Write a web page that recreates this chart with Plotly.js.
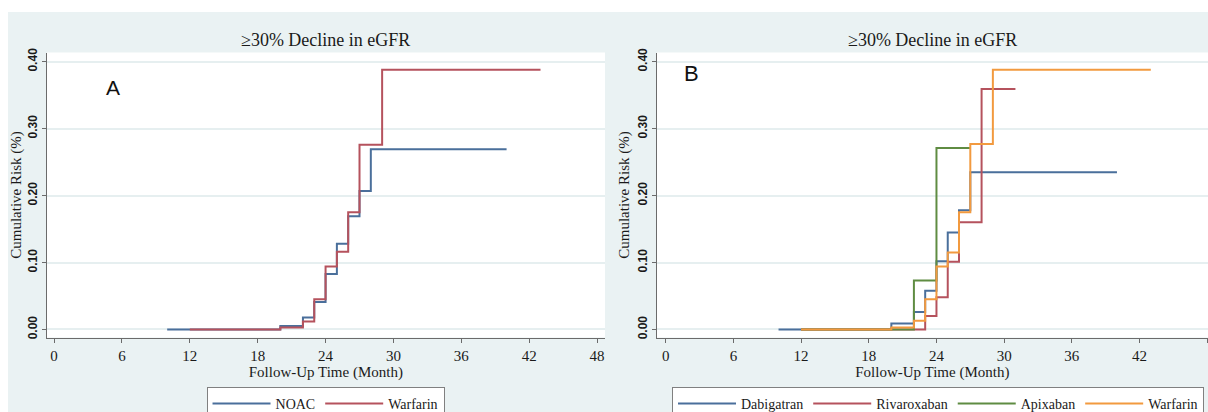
<!DOCTYPE html>
<html>
<head>
<meta charset="utf-8">
<script src="https://cdn.plot.ly/plotly-3.0.1.min.js"></script>
<style>
  html, body { margin: 0; padding: 0; background: #ffffff; overflow: hidden; }
  #chart { position: absolute; left: 8px; top: 12px; width: 1200px; height: 420px; }
</style>
</head>
<body>
<div id="chart"></div>
<script>
// ---- Data ----
const panelTitle = "≥30% Decline in eGFR";
const xTitle = "Follow-Up Time (Month)";
const yTitle = "Cumulative Risk (%)";
const xTicks = [0, 6, 12, 18, 24, 30, 36, 42, 48];
const yTicks = [0, 0.1, 0.2, 0.3, 0.4];

// Panel A
const noacTime = [10, 20, 22, 23, 24, 25, 26, 27, 28, 40];
const noacRisk = [0, 0.005, 0.018, 0.041, 0.083, 0.128, 0.169, 0.207, 0.269, 0.269];
const warfarinATime = [12, 20, 22, 23, 24, 25, 26, 27, 29, 43];
const warfarinARisk = [0, 0.003, 0.012, 0.045, 0.094, 0.116, 0.175, 0.276, 0.388, 0.388];

// Panel B
const dabigatranTime = [10, 20, 22, 23, 24, 25, 26, 27, 40];
const dabigatranRisk = [0, 0.009, 0.026, 0.058, 0.102, 0.145, 0.178, 0.235, 0.235];
const rivaroxabanTime = [12, 23, 24, 25, 26, 28, 31];
const rivaroxabanRisk = [0, 0.020, 0.048, 0.101, 0.160, 0.359, 0.359];
const apixabanTime = [12, 22, 24, 27];
const apixabanRisk = [0, 0.073, 0.271, 0.271];
const warfarinBTime = [12, 20, 22, 23, 24, 25, 26, 27, 29, 43];
const warfarinBRisk = [0, 0.003, 0.013, 0.045, 0.094, 0.115, 0.175, 0.277, 0.388, 0.388];

// ---- Styles ----
const BLUE = '#4a6f9b', RED = '#b5525d', GREEN = '#5f8c42', ORANGE = '#f29a3f';
const BG = '#eaf2f3';
const AXIS = '#6b6b6b';
const SERIF = 'Liberation Serif, Times New Roman, serif';
const SANS = 'Liberation Sans, Arial, sans-serif';

function stepTrace(name, x, y, color, xa, ya, legend) {
  return { type: 'scatter', mode: 'lines', name: name, x: x, y: y,
    line: { shape: 'hv', color: color, width: 2 },
    xaxis: xa, yaxis: ya, legend: legend, hoverinfo: 'x+y+name' };
}

const data = [
  stepTrace('NOAC', noacTime, noacRisk, BLUE, 'x', 'y', 'legend'),
  stepTrace('Warfarin', warfarinATime, warfarinARisk, RED, 'x', 'y', 'legend'),
  stepTrace('Dabigatran', dabigatranTime, dabigatranRisk, BLUE, 'x2', 'y2', 'legend2'),
  stepTrace('Rivaroxaban', rivaroxabanTime, rivaroxabanRisk, RED, 'x2', 'y2', 'legend2'),
  stepTrace('Apixaban', apixabanTime, apixabanRisk, GREEN, 'x2', 'y2', 'legend2'),
  stepTrace('Warfarin', warfarinBTime, warfarinBRisk, ORANGE, 'x2', 'y2', 'legend2')
];

function xAxis(domain, range, anchor) {
  return { domain: domain, range: range, anchor: anchor,
    tickmode: 'array', tickvals: xTicks, ticktext: xTicks.map(String),
    showline: true, linecolor: AXIS, linewidth: 1,
    ticks: 'outside', ticklen: 4, tickcolor: AXIS,
    showgrid: false, zeroline: false,
    tickfont: { family: SERIF, size: 15, color: '#1a1a1a' },
    title: { text: xTitle, font: { family: SERIF, size: 15, color: '#1a1a1a' }, standoff: 3 } };
}
function yAxis(domain, anchor) {
  return { domain: domain, range: [-0.012, 0.4137], anchor: anchor,
    tickmode: 'array', tickvals: yTicks, ticktext: yTicks.map(v => v.toFixed(2)),
    tickangle: -90,
    showline: true, linecolor: AXIS, linewidth: 1,
    ticks: 'outside', ticklen: 4, tickcolor: AXIS,
    showgrid: true, gridcolor: '#e6eff0', gridwidth: 1.5, zeroline: false,
    tickfont: { family: SANS, size: 12, color: '#1a1a1a', weight: 'bold' },
    title: { text: yTitle, font: { family: SERIF, size: 15, color: '#1a1a1a' }, standoff: 2 } };
}

const yDom = [0.225, 0.90357];
const legendCommon = { orientation: 'h', xref: 'container', yref: 'container',
  y: 0.10714, yanchor: 'top', xanchor: 'center',
  bgcolor: '#ffffff', bordercolor: '#808080', borderwidth: 1,
  font: { family: SERIF, size: 14, color: '#1a1a1a' },
  itemwidth: 58, itemclick: false, itemdoubleclick: false, traceorder: 'normal' };

const layout = {
  width: 1200, height: 420, autosize: false,
  margin: { l: 0, r: 0, t: 0, b: 0, pad: 0, autoexpand: false },
  paper_bgcolor: BG, plot_bgcolor: '#ffffff',
  showlegend: true,
  xaxis: xAxis([0.03225, 0.4975], [-0.65, 48.7], 'y'),
  yaxis: yAxis(yDom, 'x'),
  xaxis2: xAxis([0.54058, 1.0], [-0.8, 48.07], 'y2'),
  yaxis2: yAxis(yDom, 'x2'),
  legend: Object.assign({}, legendCommon, { x: 0.2646 }),
  legend2: Object.assign({}, legendCommon, { x: 0.775 }),
  annotations: [
    { text: panelTitle, xref: 'x domain', yref: 'paper', x: 0.5, y: 0.9333,
      xanchor: 'center', yanchor: 'middle', showarrow: false,
      font: { family: SERIF, size: 18, color: '#1a1a1a' } },
    { text: panelTitle, xref: 'x2 domain', yref: 'paper', x: 0.5, y: 0.9333,
      xanchor: 'center', yanchor: 'middle', showarrow: false,
      font: { family: SERIF, size: 18, color: '#1a1a1a' } },
    { text: 'A', xref: 'paper', yref: 'paper', x: 0.0875, y: 0.81905,
      xanchor: 'center', yanchor: 'middle', showarrow: false,
      font: { family: SANS, size: 21, color: '#111111' } },
    { text: 'B', xref: 'paper', yref: 'paper', x: 0.5695, y: 0.85405,
      xanchor: 'center', yanchor: 'middle', showarrow: false,
      font: { family: SANS, size: 22, color: '#111111' } }
  ]
};

Plotly.newPlot('chart', data, layout, { displayModeBar: false });
</script>
</body>
</html>
